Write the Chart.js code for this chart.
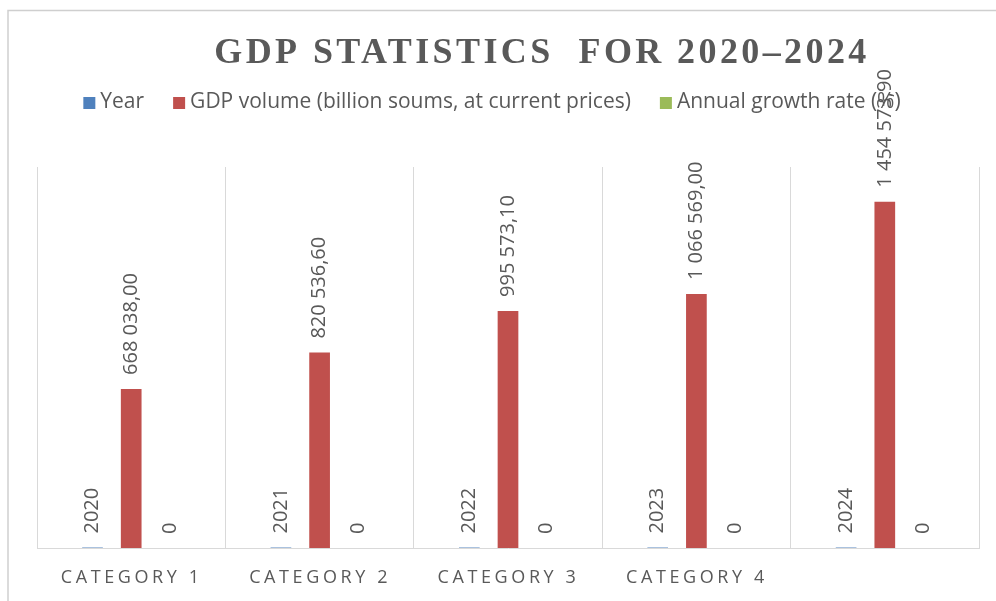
<!DOCTYPE html>
<html>
<head>
<meta charset="utf-8">
<script src="https://cdn.jsdelivr.net/npm/chart.js@4"></script>
<style>
html, body { margin: 0; padding: 0; background: #fff; }
#wrap { width: 996px; height: 601px; position: relative; }
</style>
</head>
<body>
<div id="wrap"><canvas id="myChart" width="996" height="601"></canvas></div>
<script>
// Daten aus dem Diagramm
const categories = ["CATEGORY 1", "CATEGORY 2", "CATEGORY 3", "CATEGORY 4", ""]
const yearValues = [2020, 2021, 2022, 2023, 2024]
const gdpValues = [668038.00, 820536.60, 995573.10, 1066569.00, 1454573.90]
const growthValues = [0, 0, 0, 0, 0]
const seriesNames = ["Year", "GDP volume (billion soums, at current prices)", "Annual growth rate (%)"]
const seriesColors = ["#4f81bd", "#c0504d", "#9bbb59"]
const labelDecimals = [0, 2, 0]
const labelGrouping = [false, true, false]
const chartTitle = "GDP STATISTICS  FOR 2020\u20132024"

const TEXT_COLOR = "#595959"
const LINE_COLOR = "#d9d9d9"

// Zahl im Format "1 454 573,90"
function formatValue(v, d, group) {
    let s = v.toFixed(d)
    let parts = s.split(".")
    let i = group ? parts[0].replace(/\B(?=(\d{3})+(?!\d))/g, " ") : parts[0]
    return parts[1] ? i + "," + parts[1] : i
}

// Rahmen um das Diagramm
const framePlugin = {
    id: "frame",
    beforeDraw(chart) {
        const ctx = chart.ctx
        ctx.save()
        ctx.strokeStyle = "#cfcfcf"
        ctx.lineWidth = 1.5
        ctx.beginPath()
        ctx.moveTo(8, 601)
        ctx.lineTo(8, 10.5)
        ctx.lineTo(996, 10.5)
        ctx.stroke()
        ctx.restore()
    }
}

// Titel und Legende
const titleLegendPlugin = {
    id: "titleLegend",
    afterDraw(chart) {
        const ctx = chart.ctx
        ctx.save()
        ctx.fillStyle = TEXT_COLOR
        ctx.font = "bold 36px 'Liberation Serif'"
        ctx.letterSpacing = "3.4px"
        ctx.textAlign = "center"
        ctx.textBaseline = "alphabetic"
        ctx.fillText(chartTitle, 542, 63)
        ctx.letterSpacing = "0px"

        ctx.font = "21px 'Open Sans'"
        ctx.textAlign = "left"
        ctx.textBaseline = "middle"
        const box = 12, gapText = 5, gapItem = 29
        let widths = chart.data.datasets.map(ds => ctx.measureText(ds.label).width)
        let total = widths.reduce((a, w) => a + box + gapText + w, 0) + gapItem * (widths.length - 1)
        let x = 492 - total / 2
        chart.data.datasets.forEach((ds, i) => {
            ctx.fillStyle = ds.backgroundColor
            ctx.fillRect(x, 97, box, box)
            ctx.fillStyle = TEXT_COLOR
            ctx.fillText(ds.label, x + box + gapText, 102)
            x += box + gapText + widths[i] + gapItem
        })
        ctx.restore()
    }
}

// Kategorie-Beschriftungen mit Sperrung
const categoryLabelPlugin = {
    id: "categoryLabels",
    afterDraw(chart) {
        const ctx = chart.ctx
        const xScale = chart.scales.x
        ctx.save()
        ctx.fillStyle = TEXT_COLOR
        ctx.font = "18px 'Open Sans'"
        ctx.letterSpacing = "3.6px"
        ctx.textAlign = "center"
        ctx.textBaseline = "middle"
        chart.data.labels.forEach((lab, i) => {
            ctx.fillText(lab, xScale.getPixelForValue(i) + 0.5, 578)
        })
        ctx.restore()
    }
}

// Datenbeschriftungen senkrecht über den Balken
const barLabelPlugin = {
    id: "barLabels",
    afterDatasetsDraw(chart) {
        const ctx = chart.ctx
        ctx.save()
        ctx.fillStyle = TEXT_COLOR
        ctx.font = "20px 'Open Sans'"
        ctx.textAlign = "left"
        ctx.textBaseline = "middle"
        chart.data.datasets.forEach((ds, di) => {
            const meta = chart.getDatasetMeta(di)
            meta.data.forEach((el, i) => {
                const txt = formatValue(ds.data[i], labelDecimals[di], labelGrouping[di])
                ctx.save()
                ctx.translate(el.x, el.y - 14)
                ctx.rotate(-Math.PI / 2)
                ctx.fillText(txt, 0, 0)
                ctx.restore()
            })
        })
        ctx.restore()
    }
}

const ChartElement = document.getElementById("myChart")
const chart = new Chart(ChartElement, {
    type: "bar",
    data: {
        labels: categories,
        datasets: [
            { label: seriesNames[0], data: yearValues, backgroundColor: seriesColors[0] },
            { label: seriesNames[1], data: gdpValues, backgroundColor: seriesColors[1] },
            { label: seriesNames[2], data: growthValues, backgroundColor: seriesColors[2] }
        ]
    },
    options: {
        responsive: false,
        animation: false,
        datasets: {
            bar: { categoryPercentage: 0.616, barPercentage: 0.535 }
        },
        layout: { padding: { top: 167, left: 37, right: 17, bottom: 53 } },
        plugins: {
            legend: { display: false },
            title: { display: false },
            tooltip: { enabled: false }
        },
        scales: {
            x: {
                offset: true,
                grid: { color: LINE_COLOR, drawTicks: false, offset: true },
                border: { color: LINE_COLOR },
                ticks: { display: false }
            },
            y: {
                display: false,
                min: 0,
                max: 1600000
            }
        }
    },
    plugins: [framePlugin, barLabelPlugin, titleLegendPlugin, categoryLabelPlugin]
})
</script>
</body>
</html>
